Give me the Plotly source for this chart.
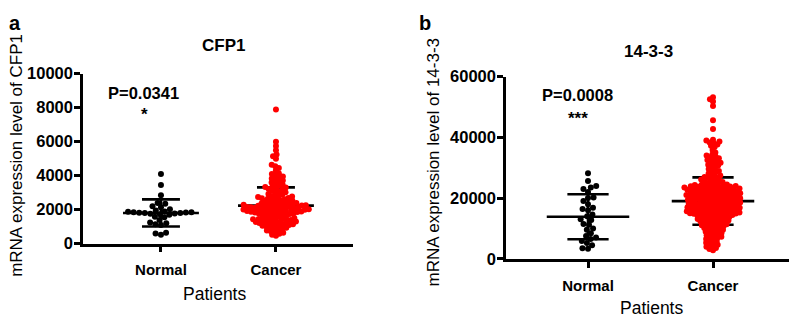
import numpy as np
import plotly.graph_objects as go

# ---------------- data ----------------
categories = ["Normal", "Cancer"]

cfp1_normal = [4100, 3450, 2850, 2400, 2350, 2200, 2150, 2020, 1950, 1900, 1880, 1850,
               1850, 1830, 1820, 1800, 1800, 1780, 1760, 1740, 1700, 1580, 1550, 1400,
               1250, 1200, 1150, 1100, 650, 600, 520]

cfp1_cancer = [7900, 6000, 5750, 5500, 5250, 5150, 5000,
               4650, 4550, 4450, 4300,
               4150, 4100, 4020, 3950, 3900, 3840, 3780, 3720, 3660, 3600, 3550, 3480, 3420,
               3380, 3340, 3300, 3260, 3220, 3180, 3130, 3080, 3030, 2980, 2930, 2890, 2850,
               2810, 2770, 2740, 2710,
               2690, 2670, 2650, 2620, 2600, 2570, 2540, 2510, 2490, 2460, 2440, 2420, 2390,
               2370, 2350, 2330, 2310,
               2290, 2280, 2270, 2255, 2240, 2230, 2215, 2200, 2190, 2175, 2160, 2150, 2135,
               2120, 2110, 2095, 2080, 2070, 2055, 2040, 2030, 2015, 2000, 1990, 1975, 1960,
               1950, 1935, 1920, 1910, 1895, 1880, 1870, 1855, 1840, 1830, 1815, 1800, 1785,
               1770, 1750, 1730, 1710, 1690, 1660, 1630, 1600, 1570,
               1540, 1515, 1500, 1480, 1460, 1440, 1420, 1400, 1385, 1360, 1340, 1320, 1300,
               1280, 1260, 1240, 1215, 1195, 1170, 1150, 1125, 1100, 1080, 1055, 1030, 1010,
               980, 940, 900, 860, 820, 780, 740, 690, 640, 590, 530, 470]

p1433_normal = [28200, 25600, 24000, 23500, 23000, 22000, 20200, 20000, 19000, 18000,
                16800, 16400, 16000, 14600, 14000, 13000, 12800, 11500, 11200, 10000,
                9600, 8400, 7500, 7000, 6500, 5900, 5200, 4500, 3500, 3300]

p1433_cancer = [53200, 52500, 51800, 50300, 45600, 42700,
                39200, 38900, 38600, 38300, 38000, 37600, 37200, 36800, 35800, 35000,
                34300, 34000, 33700, 33400, 33100, 32800, 32500, 32200, 31900, 31600,
                31300, 31000, 30700, 30400,
                30000, 29600, 29200, 28900, 28500, 28100, 27800, 27400, 27100,
                26900, 26700, 26500, 26300, 26100, 25900, 25700, 25500, 25300, 25100,
                24900, 24700, 24500, 24400, 24300, 24200, 24100, 24000,
                23950, 23870, 23800, 23710, 23640, 23550, 23480, 23390, 23310, 23230,
                23150, 23060, 22990, 22900, 22830, 22740, 22660, 22580, 22500, 22410,
                22340, 22250, 22170, 22090, 22010, 21920, 21850, 21760, 21690, 21600,
                21520, 21440, 21360, 21270, 21200, 21110, 21040, 20950, 20870, 20790,
                20710, 20620, 20550, 20460, 20390, 20300, 20220, 20140, 20060, 19970,
                19900, 19810, 19740, 19650, 19570, 19490, 19410, 19320, 19250, 19160,
                19090, 19000, 18920, 18840, 18760, 18670, 18600, 18510, 18440, 18350,
                18270, 18190, 18110, 18020, 17950, 17860, 17790, 17700, 17620, 17540,
                17460, 17370, 17300, 17210, 17140, 17050, 16970, 16890, 16810, 16720,
                16650, 16560, 16490, 16400, 16320, 16240, 16160, 16070, 16000, 15910,
                15840, 15750, 15670, 15590, 15510, 15420, 15350, 15260, 15190, 15100,
                15020, 14940, 14860, 14770, 14700, 14610, 14540, 14450,
                14380, 14250, 14130, 14000, 13880, 13750, 13630, 13500, 13380, 13250,
                13120, 13000, 12870, 12740, 12600, 12460, 12320, 12180, 12030, 11880,
                11730, 11570, 11410, 11250, 11080, 10910, 10740, 10570,
                10380, 10180, 9980, 9780, 9570, 9360, 9150, 8930, 8710, 8480, 8250,
                8020, 7790, 7550, 7300,
                7050, 6780, 6500, 6200, 5900, 5600, 5300, 5000, 4650, 4300, 3950,
                3600, 3200, 2850]

cfp1_mean = [1810, 2240]
cfp1_sd = [800, 1075]
p1433_mean = [13850, 19000]
p1433_sd = [7400, 7800]

cfp1_ticks = [0, 2000, 4000, 6000, 8000, 10000]
p1433_ticks = [0, 20000, 40000, 60000]

# ---------------- layout geometry ----------------
W, H = 797, 325
PAGE_OFFSET = 8   # the page body margin shifts the figure by 8 px
FONT = "Liberation Sans, Arial, sans-serif"
# pixel boxes of the two plot areas, in screenshot pixels
PANELS = {
    "a": dict(x0=83, x1=353, ytop=68, ybot=248, xr=[-0.678, 1.67], yr=[0, 10000]),
    "b": dict(x0=506, x1=797, ytop=71, ybot=264, xr=[-0.656, 1.672], yr=[0, 60000]),
}
RED = "#ff0000"
BLACK = "#000000"


def fx(px):
    return (px - PAGE_OFFSET) / W


def fy(py):
    return 1 - (py - PAGE_OFFSET) / H


def swarm(vals, px_per_y, px_per_x, spacing):
    ys = np.asarray(vals, dtype=float) * px_per_y
    order = np.argsort(ys)
    xs = np.zeros(len(ys))
    placed = []
    for i in order:
        y = ys[i]
        near = [(px, py) for px, py in placed if abs(py - y) < spacing]
        cands = [0.0]
        for px, py in near:
            dx = np.sqrt(spacing ** 2 - (py - y) ** 2)
            cands += [px + dx, px - dx]
        cands.sort(key=lambda c: (abs(c), c))
        for c in cands:
            if all((c - px) ** 2 + (y - py) ** 2 >= spacing ** 2 - 1e-6 for px, py in near):
                xs[i] = c
                break
        placed.append((xs[i], y))
    return xs / px_per_x


fig = go.Figure()


def add_panel(key, xa, ya, normal, cancer, means, sds, sp_normal, sp_cancer):
    p = PANELS[key]
    pxx = (p["x1"] - p["x0"]) / (p["xr"][1] - p["xr"][0])
    pxy = (p["ybot"] - p["ytop"]) / (p["yr"][1] - p["yr"][0])
    for i in range(2):
        m, s = means[i], sds[i]
        xs = [i - 0.33, i + 0.33, None, i - 0.165, i + 0.165, None,
              i - 0.165, i + 0.165, None, i, i]
        ys = [m, m, None, m + s, m + s, None, m - s, m - s, None, m - s, m + s]
        fig.add_trace(go.Scatter(x=xs, y=ys, mode="lines", xaxis=xa, yaxis=ya,
                                 line=dict(color=BLACK, width=2.6),
                                 showlegend=False, hoverinfo="skip"))
    for i, (vals, col, sp) in enumerate([(normal, BLACK, sp_normal), (cancer, RED, sp_cancer)]):
        off = swarm(vals, pxy, pxx, sp)
        fig.add_trace(go.Scatter(x=i + off, y=vals, mode="markers", xaxis=xa, yaxis=ya,
                                 marker=dict(color=col, size=6, line=dict(width=0)),
                                 showlegend=False, cliponaxis=False))


add_panel("a", "x", "y", cfp1_normal, cfp1_cancer, cfp1_mean, cfp1_sd, 5.6, 4.0)
add_panel("b", "x2", "y2", p1433_normal, p1433_cancer, p1433_mean, p1433_sd, 5.6, 3.8)


def xdom(p):
    return [fx(p["x0"]), min(1.0, fx(p["x1"]))]


def ydom(p):
    return [fy(p["ybot"]), fy(p["ytop"])]


axis_common = dict(showgrid=False, zeroline=False, showline=True, linecolor=BLACK,
                   linewidth=2.5, ticks="outside", ticklen=6, tickwidth=2.5,
                   tickcolor=BLACK)
xfont = dict(family=FONT, size=15, color=BLACK, weight="bold")
yfont = dict(family=FONT, size=16.5, color=BLACK, weight="bold")

pa, pb = PANELS["a"], PANELS["b"]
fig.update_layout(
    width=W, height=H, margin=dict(l=0, r=0, t=0, b=0),
    paper_bgcolor="white", plot_bgcolor="white",
    xaxis=dict(domain=xdom(pa), range=pa["xr"], tickvals=[0, 1], ticktext=categories,
               anchor="y", tickfont=xfont, ticklabelstandoff=5, **axis_common),
    yaxis=dict(domain=ydom(pa), range=pa["yr"], tickvals=cfp1_ticks,
               ticktext=[str(t) for t in cfp1_ticks], anchor="x", tickfont=yfont,
               ticklabelstandoff=-2, **axis_common),
    xaxis2=dict(domain=xdom(pb), range=pb["xr"], tickvals=[0, 1], ticktext=categories,
                anchor="y2", tickfont=xfont, ticklabelstandoff=5, **axis_common),
    yaxis2=dict(domain=ydom(pb), range=pb["yr"], tickvals=p1433_ticks,
                ticktext=[str(t) for t in p1433_ticks], anchor="x2", tickfont=yfont,
                ticklabelstandoff=-2, **axis_common),
)


def ann(text, px, py, size, bold=False, angle=0):
    fig.add_annotation(text=f"<b>{text}</b>" if bold else text,
                       x=fx(px), y=fy(py), xref="paper", yref="paper",
                       xanchor="center", yanchor="middle", showarrow=False,
                       textangle=angle, borderpad=0,
                       font=dict(family=FONT, size=size, color=BLACK))


ann("a", 15, 14, 20, bold=True)
ann("b", 425, 14, 20, bold=True)
ann("CFP1", 223, 38.5, 17, bold=True)
ann("14-3-3", 648, 44, 17, bold=True)
ann("P=0.0341", 143, 88, 16.5, bold=True)
ann("*", 144, 111, 17, bold=True)
ann("P=0.0008", 577, 91, 16.5, bold=True)
ann("***", 578, 115, 17, bold=True)
ann("Patients", 214, 301, 17.5)
ann("Patients", 651, 316, 17.5)
ann("mRNA expression level of CFP1", 17, 155, 17, angle=-90)
ann("mRNA expression level of 14-3-3", 433, 162, 17, angle=-90)

fig.write_html("out.html")
